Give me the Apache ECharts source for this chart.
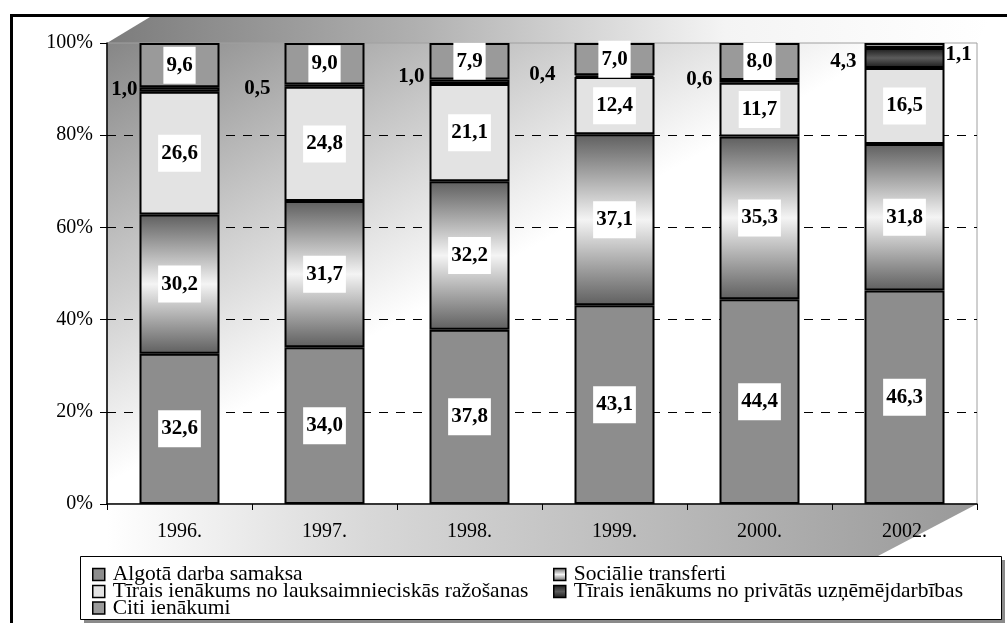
<!DOCTYPE html>
<html>
<head>
<meta charset="utf-8">
<script src="https://cdn.jsdelivr.net/npm/echarts@6/dist/echarts.min.js"></script>
<style>html,body{margin:0;padding:0;background:#fff;}#c{width:1007px;height:623px;}</style>
</head>
<body>
<div id="c"></div>
<script>
const categories = ['1996.', '1997.', '1998.', '1999.', '2000.', '2002.'];
const seriesNames = [
  'Algotā darba samaksa',
  'Sociālie transferti',
  'Tīrais ienākums no lauksaimnieciskās ražošanas',
  'Tīrais ienākums no privātās uzņēmējdarbības',
  'Citi ienākumi'
];
const algota = [32.6, 34.0, 37.8, 43.1, 44.4, 46.3];
const socialie = [30.2, 31.7, 32.2, 37.1, 35.3, 31.8];
const lauks = [26.6, 24.8, 21.1, 12.4, 11.7, 16.5];
const privatas = [1.0, 0.5, 1.0, 0.4, 0.6, 4.3];
const citi = [9.6, 9.0, 7.9, 7.0, 8.0, 1.1];
const yMin = 0, yMax = 100, yStep = 20;

const FONT = 'Liberation Serif';
const fmt = p => p.value.toFixed(1).replace('.', ',');

const boxLabel = {
  show: true, position: 'inside', formatter: fmt,
  fontFamily: FONT, fontSize: 21, fontWeight: 'bold', color: '#000',
  backgroundColor: '#fff', padding: [8, 3], lineHeight: 21
};
const plainLabel = {
  show: true, formatter: fmt,
  fontFamily: FONT, fontSize: 21, fontWeight: 'bold', color: '#000',
  backgroundColor: 'transparent', padding: 0
};

const grad = (a, b) => ({
  type: 'linear', x: 0, y: 0, x2: 0, y2: 1,
  colorStops: [{offset: 0, color: a}, {offset: 0.5, color: b}, {offset: 1, color: a}]
});

const colors = ['#8d8d8d', grad('#5f5f5f', '#f4f4f4'), '#e3e3e3', grad('#1a1a1a', '#5c5c5c'), '#9a9a9a'];

// label placement tweaks for the thin "private" segments
const privDist = [2, 14, 5, 19, 7, 8];
const privDy = [0, 3, -5, -2, -2, 4];

function mkSeries(i, values, dataMapper) {
  return {
    name: seriesNames[i], type: 'bar', stack: 'all', barWidth: 80,
    itemStyle: {color: colors[i], borderColor: '#000', borderWidth: 2},
    label: boxLabel,
    data: values.map(dataMapper || (v => v))
  };
}

const series = [
  mkSeries(0, algota),
  mkSeries(1, socialie),
  mkSeries(2, lauks),
  mkSeries(3, privatas, (v, k) => ({
    value: v,
    label: Object.assign({}, plainLabel, {position: 'left', distance: privDist[k], offset: [0, privDy[k]]})
  })),
  mkSeries(4, citi, (v, k) => k === citi.length - 1
    ? {value: v, label: Object.assign({}, plainLabel, {position: 'right', distance: 1, offset: [0, 9]})}
    : v)
];

const legendPos = [
  [92, 563.5], [553, 563.5], [92, 580.5], [553, 580.5], [92, 597]
];
const legends = seriesNames.map((n, i) => ({
  data: [n], left: legendPos[i][0], top: legendPos[i][1], orient: 'horizontal',
  itemWidth: 12, itemHeight: 12, itemGap: 0, padding: 0, icon: 'rect', selectedMode: false,
  itemStyle: {borderColor: '#000', borderWidth: 1.5},
  textStyle: {fontFamily: FONT, fontSize: 21.5, color: '#000', lineHeight: 18, padding: [0, 0, 0, 3]}
}));

const option = {
  animation: false,
  backgroundColor: '#fff',
  textStyle: {fontFamily: FONT},
  grid: {left: 107, top: 43, width: 870, height: 461, containLabel: false},
  legend: legends,
  graphic: [
    {type: 'rect', z: -20, shape: {x: 11.5, y: 15.5, width: 1030, height: 640},
      style: {fill: '#fff', stroke: '#000', lineWidth: 3}},
    {type: 'polygon', z: -15, shape: {points: [[107, 43], [150, 17], [990, 17], [977, 43]]},
      style: {fill: {type: 'linear', x: 0, y: 0, x2: 1, y2: 0,
        colorStops: [{offset: 0, color: '#7c7c7c'}, {offset: 0.35, color: '#b0b0b0'}, {offset: 0.7, color: '#f4f4f4'}, {offset: 1, color: '#ffffff'}]}}},
    {type: 'rect', z: -15, shape: {x: 107, y: 43, width: 870, height: 461},
      style: {stroke: '#a0a0a0', lineWidth: 1, fill: {type: 'linear', x: 0, y: 0, x2: 0.215, y2: 0.73,
        colorStops: [{offset: 0, color: '#868686'}, {offset: 0.5, color: '#c4c4c4'}, {offset: 1, color: '#ffffff'}]}}},
    {type: 'polygon', z: -15, shape: {points: [[107, 504], [977, 504], [878, 556], [107, 556]]},
      style: {fill: {type: 'linear', x: 0, y: 0, x2: 1, y2: 0,
        colorStops: [{offset: 0, color: '#ffffff'}, {offset: 0.3, color: '#d8d8d8'}, {offset: 1, color: '#999999'}]}}},
    {type: 'rect', z: -12, shape: {x: 84, y: 560, width: 921, height: 63}, style: {fill: '#8a8a8a'}},
    {type: 'rect', z: -11, shape: {x: 80.5, y: 556.5, width: 921, height: 63},
      style: {fill: '#fff', stroke: '#000', lineWidth: 1}}
  ],
  xAxis: {
    type: 'category', data: categories,
    axisLine: {show: true, lineStyle: {color: '#000', width: 1.5}},
    axisTick: {show: true, length: 6, lineStyle: {color: '#000', width: 1}},
    axisLabel: {fontFamily: FONT, fontSize: 20, color: '#000', margin: 18},
    splitLine: {show: false}
  },
  yAxis: {
    type: 'value', min: yMin, max: yMax, interval: yStep,
    axisLine: {show: true, lineStyle: {color: '#000', width: 1.5}},
    axisTick: {show: true, length: 7, lineStyle: {color: '#000', width: 1}},
    axisLabel: {formatter: '{value}%', fontFamily: FONT, fontSize: 20, color: '#000', margin: 14},
    splitLine: {show: true, showMinLine: false, showMaxLine: false,
      lineStyle: {color: '#000', width: 1, type: [9, 8]}}
  },
  series: series
};

const chart = echarts.init(document.getElementById('c'), null, {renderer: 'canvas'});
chart.setOption(option);
</script>
</body>
</html>
